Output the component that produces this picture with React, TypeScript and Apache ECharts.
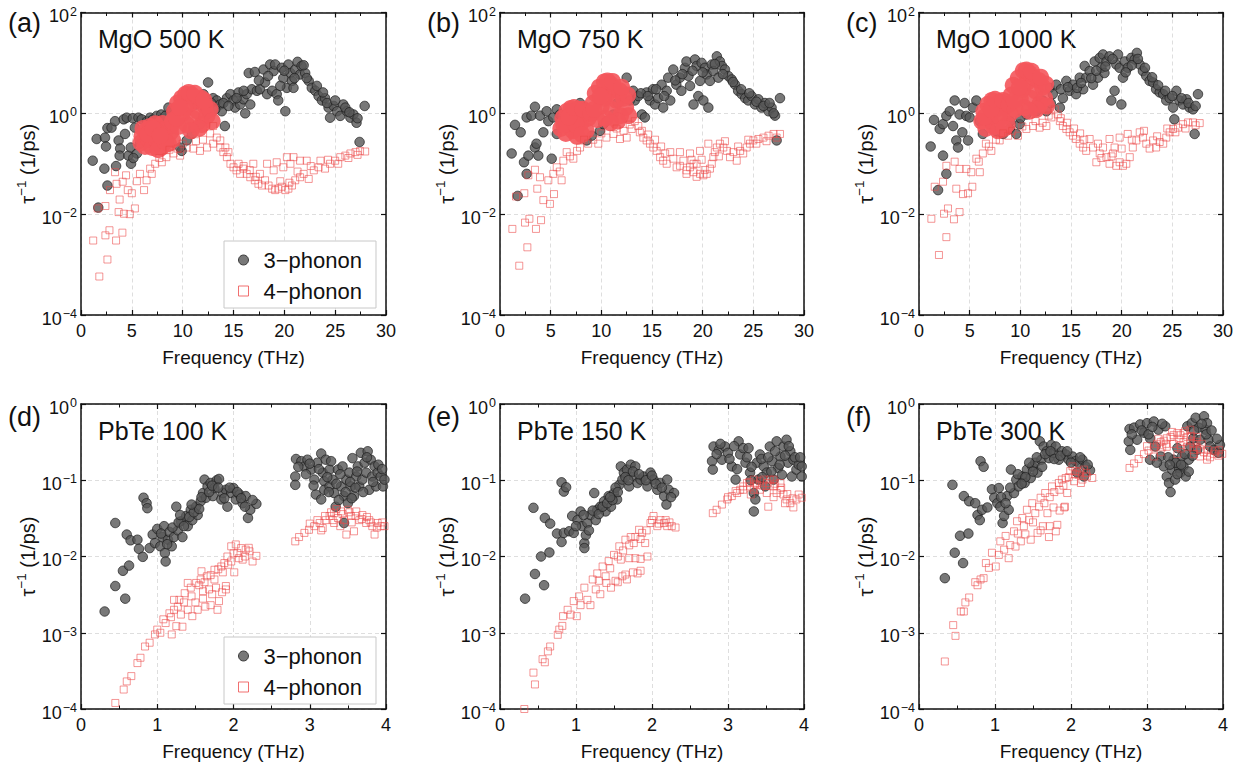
import React, { useEffect, useRef } from "react";
import * as echarts from "echarts";

// ---------- Panel texts and axis ranges ----------
const panelLetters = ["(a)", "(b)", "(c)", "(d)", "(e)", "(f)"];
const panelTitles = ["MgO 500 K", "MgO 750 K", "MgO 1000 K", "PbTe 100 K", "PbTe 150 K", "PbTe 300 K"];
const seriesNames = ["3\u2212phonon", "4\u2212phonon"];
const xAxisName = "Frequency (THz)";
const mgoFreq = { min: 0, max: 30, step: 5 };
const pbteFreq = { min: 0, max: 4, step: 1 };
const mgoRate = { min: 1e-4, max: 1e2, stepDecades: 2 };
const pbteRate = { min: 1e-4, max: 1e0, stepDecades: 1 };

// ---------- MgO 500 K ----------
const mgo500_3ph = [
  [1.15,0.115],[1.54,0.31],[1.7,0.0135],[2.36,0.33],[2.46,0.22],[2.6,0.51],[2.3,0.08],[2.6,0.037],[3.0,0.52],[3.35,0.7],
  [3.45,0.09],[3.7,0.29],[3.85,0.2],[3.8,0.145],[4.2,0.76],[4.33,0.39],[4.5,0.82],[4.66,0.145],[4.9,0.21],[4.92,0.1],
  [5.1,0.8],[5.3,0.52],[5.5,0.16],[5.65,0.82],[5.97,0.76],[6.1,0.39],[6.5,0.7],[6.8,0.82],[7.05,0.75],[7.45,0.89],
  [7.9,0.95],[7.8,0.73],[8.3,0.89],[8.6,1.3],[8.9,1.1],[9.9,0.18],[9.75,0.21],[10.4,0.29],[10.9,0.39],[11.05,0.52],
  [11.7,0.6],[12.05,2.4],[12.5,4.1],[12.4,0.95],[13.0,2.0],[13.35,1.8],[13.7,1.5],[13.85,1.1],[14.15,0.56],[14.35,2.0],
  [14.7,2.4],[15.0,1.8],[15.15,1.3],[15.5,2.6],[15.65,1.5],[15.98,1.9],[16.15,1.0],[16.3,2.4],[16.5,6.3],[16.65,1.5],
  [16.8,3.0],[17.1,6.6],[17.3,2.8],[17.6,3.0],[17.95,7.4],[18.1,4.1],[18.3,2.4],[18.6,9.3],[18.8,2.8],[18.95,6.9],
  [19.1,9.3],[19.25,2.4],[19.4,1.8],[19.75,8.0],[19.9,5.0],[20.1,1.1],[20.25,3.2],[20.4,9.3],[20.6,6.3],[20.75,4.4],
  [20.9,3.2],[21.07,7.4],[21.3,10.5],[21.55,5.9],[21.7,8.7],[22.05,6.3],[22.4,4.4],[22.7,3.2],[23.05,2.8],[23.37,2.2],
  [23.7,1.8],[24.0,2.0],[24.35,1.3],[24.5,0.82],[24.85,1.4],[25.2,1.1],[25.5,0.89],[25.8,1.5],[26.15,1.1],[26.5,0.82],
  [26.8,0.95],[27.1,0.65],[27.9,1.4],[27.4,0.27],[5.15,0.13],[5.8,0.25],[12.8,1.6],[13.2,1.2],[14.0,1.6],[14.5,1.4],
  [15.3,2.0],[16.0,2.8],[17.5,4.5],[18.4,5.5],[19.6,3.5],[20.0,7.0],[21.0,5.0],[21.9,9.0],[22.2,5.0],[23.2,3.5],
  [23.8,2.6],[24.2,1.6],[25.0,1.8],[26.0,1.3],[26.4,1.05],[27.2,0.8],[11.3,1.5],[11.8,1.8],[12.2,1.3]
];
const mgo500_4ph = [
  [1.2,0.003],[1.8,0.00058],[2.6,0.00126],[2.4,0.0038],[2.8,0.0048],[3.45,0.003],[4.07,0.0043],[1.64,0.013],[2.4,0.0145],[3.7,0.011],
  [4.23,0.0102],[4.8,0.01],[5.3,0.013],[3.8,0.0195],[2.85,0.03],[3.5,0.04],[4.1,0.044],[4.43,0.059],[5.0,0.026],[3.35,0.068],
  [5.8,0.063],[6.2,0.03],[6.45,0.047],[6.96,0.063],[7.3,0.1],[7.95,0.107],[8.4,0.135],[9.1,0.16],[9.75,0.145],[10.4,0.21],
  [11.05,0.2],[11.7,0.18],[12.4,0.21],[13.0,0.25],[13.35,0.33],[13.7,0.29],[13.0,0.56],[13.7,0.21],[14.0,0.17],[14.35,0.135],
  [14.7,0.1],[15.0,0.085],[15.3,0.074],[15.65,0.063],[15.98,0.08],[16.3,0.063],[16.65,0.054],[16.95,0.1],[17.1,0.047],[17.45,0.04],
  [17.8,0.037],[18.1,0.047],[18.45,0.037],[18.8,0.032],[19.1,0.03],[19.4,0.032],[19.75,0.035],[20.1,0.03],[20.4,0.032],[20.75,0.037],
  [21.07,0.047],[21.55,0.054],[21.9,0.063],[22.4,0.05],[22.9,0.074],[23.37,0.085],[24.0,0.08],[24.5,0.1],[25.0,0.115],[25.5,0.135],
  [26.0,0.145],[26.5,0.16],[27.0,0.17],[27.45,0.178],[27.95,0.175],[18.3,0.1],[19.25,0.107],[20.25,0.135],[20.9,0.135],[21.55,0.115],
  [22.2,0.115],[18.95,0.074],[19.9,0.085],[20.6,0.1],[23.55,0.115],[17.6,0.063],[14.2,0.21],[14.5,0.17],[15.5,0.1],[16.0,0.09],
  [16.6,0.075],[9.5,0.2],[10.0,0.25],[11.3,0.28],[12.0,0.3],[12.7,0.4],[6.8,0.08],[7.7,0.13],[8.7,0.19],[5.5,0.045],
  [4.6,0.03],[24.3,0.12],[25.3,0.1],[26.3,0.13],[27.2,0.15],[17.2,0.055],[19.6,0.045],[20.5,0.042],[21.3,0.07],[22.6,0.09]
];
const mgo500_4phDense = [
  [5.9,0.26],[6.0,0.35],[6.3,0.22],[6.4,0.45],[6.7,0.3],[6.8,0.55],[7.0,0.21],[7.2,0.4],[7.3,0.62],[7.5,0.28],
  [7.7,0.5],[7.9,0.21],[8.0,0.63],[8.2,0.35],[8.4,0.5],[8.6,0.25],[8.8,0.42],[9.0,0.3],[6.1,0.5],[7.6,0.19],[8.9,0.58],
  [6.6,0.38],[7.1,0.5],[8.3,0.27],[7.8,0.36],
  [9.0,0.7],[9.2,1.1],[9.5,1.6],[9.6,0.55],[9.9,2.0],[10.0,1.0],[10.3,2.4],[10.4,0.6],[10.6,1.5],[10.9,2.3],
  [11.0,0.8],[11.3,1.8],[11.5,1.1],[11.8,2.0],[11.9,0.6],[12.2,1.4],[12.4,0.9],[12.7,1.2],[12.9,0.7],[10.2,1.3],[11.6,0.5],[9.4,0.8],
  [10.6,2.6],[11.2,2.5],[9.7,1.3],[12.1,1.8],[10.8,0.45]
];

// ---------- MgO 750 K ----------
const mgo750_3ph = [
  [1.15,0.16],[1.48,0.59],[2.04,0.42],[2.37,0.107],[2.63,0.063],[1.74,0.023],[2.63,0.83],[2.8,0.145],[3.1,0.9],[3.45,1.35],
  [3.45,0.21],[3.6,0.25],[3.78,0.145],[3.95,0.9],[4.28,0.42],[4.6,1.1],[4.77,0.7],[5.1,0.126],[5.26,0.83],[5.6,1.2],
  [5.6,0.39],[5.92,0.95],[6.25,0.56],[6.58,1.0],[7.24,1.3],[7.9,1.6],[8.06,0.7],[8.55,0.29],[9.05,0.36],[9.87,0.45],
  [10.2,0.61],[10.5,0.7],[11.2,0.95],[12.5,5.1],[13.15,2.8],[13.3,1.8],[13.65,2.2],[14.0,0.95],[14.3,0.83],[14.47,2.6],
  [14.8,1.8],[15.1,3.0],[15.3,1.5],[15.6,2.0],[15.95,3.7],[16.1,1.3],[16.45,2.8],[16.6,5.1],[16.8,1.8],[17.1,7.4],
  [17.4,3.7],[17.76,5.1],[17.9,2.8],[18.25,8.0],[18.4,10.7],[18.6,5.5],[18.75,3.5],[19.1,1.5],[19.24,11.7],[19.4,8.7],
  [19.57,2.2],[19.74,4.4],[19.9,10.0],[20.07,1.8],[20.23,8.0],[20.4,5.9],[20.56,1.3],[20.72,4.4],[20.9,9.3],[21.05,6.9],
  [21.4,13.5],[21.55,5.1],[21.7,10.7],[21.9,8.7],[22.2,7.4],[22.53,5.5],[22.86,4.7],[23.2,3.7],[23.5,2.8],[23.85,2.4],
  [24.2,2.0],[24.5,1.8],[24.83,2.2],[25.16,1.5],[25.5,1.9],[25.8,1.3],[26.15,1.6],[26.5,1.1],[26.8,1.3],[27.14,0.9],
  [27.63,2.0],[27.3,0.29],[12.0,2.2],[12.8,1.8],[13.9,2.5],[14.6,2.2],[15.4,3.0],[16.2,2.2],[17.3,4.5],[18.0,6.0],
  [19.0,7.0],[20.0,6.5],[21.2,9.5],[22.0,6.0],[23.0,4.2],[23.8,3.0],[24.6,2.5],[25.3,1.7],[26.0,1.4],[26.6,1.6],
  [27.0,1.0],[11.6,1.6],[8.4,1.3],[9.3,0.9]
];
const mgo750_4ph = [
  [1.22,0.0051],[1.9,0.00095],[2.7,0.0022],[2.47,0.0068],[2.9,0.0081],[3.55,0.0051],[4.05,0.0076],[1.58,0.0224],[2.4,0.026],[3.68,0.032],
  [4.28,0.019],[4.93,0.016],[5.33,0.025],[3.45,0.076],[2.8,0.059],[3.95,0.054],[4.77,0.047],[5.26,0.063],[6.08,0.047],[5.6,0.085],
  [6.25,0.115],[7.24,0.126],[6.58,0.17],[7.9,0.21],[8.7,0.25],[9.7,0.25],[10.5,0.33],[11.2,0.39],[11.84,0.31],[12.5,0.33],
  [13.0,0.49],[13.3,0.7],[13.65,0.56],[13.8,0.42],[14.14,0.33],[14.47,0.29],[14.8,0.25],[15.13,0.21],[15.46,0.18],[15.8,0.135],
  [16.1,0.115],[16.45,0.1],[16.8,0.17],[17.1,0.126],[17.43,0.085],[17.76,0.091],[18.1,0.115],[18.4,0.074],[18.75,0.085],[19.1,0.068],
  [19.4,0.1],[19.74,0.063],[20.07,0.059],[20.4,0.063],[20.72,0.08],[21.05,0.135],[21.4,0.21],[21.7,0.25],[22.04,0.21],[22.4,0.18],
  [22.7,0.135],[23.03,0.17],[23.36,0.115],[23.7,0.18],[24.0,0.16],[24.34,0.21],[24.67,0.25],[25.0,0.29],[25.5,0.31],[26.0,0.33],
  [26.5,0.36],[27.0,0.39],[27.63,0.39],[17.76,0.17],[18.75,0.16],[19.74,0.18],[20.56,0.25],[19.1,0.1],[21.2,0.17],[18.4,0.063],
  [19.4,0.055],[14.0,0.45],[14.6,0.38],[15.3,0.3],[15.9,0.22],[16.3,0.16],[9.2,0.3],[10.0,0.4],[11.5,0.5],[12.2,0.45],
  [12.8,0.6],[6.9,0.14],[7.6,0.18],[8.3,0.3],[5.9,0.07],[24.5,0.3],[25.3,0.25],[26.3,0.28],[27.3,0.33],[23.5,0.22],[22.2,0.28],
  [20.2,0.075],[20.9,0.1],[21.6,0.14],[19.9,0.12],[18.9,0.12]
];
const mgo750_4phDense = [
  [6.0,0.5],[6.2,0.8],[6.5,0.4],[6.6,1.1],[6.9,0.6],[7.0,1.25],[7.2,0.45],[7.4,0.9],[7.6,0.35],[7.8,1.2],
  [8.0,0.65],[8.3,1.0],[8.5,0.45],[8.7,0.8],[6.3,0.6],[7.5,0.6],[8.1,0.38],[6.8,0.85],[7.3,1.3],[8.2,1.2],
  [9.0,1.0],[9.2,1.6],[9.4,2.5],[9.6,0.75],[9.8,3.3],[10.0,1.4],[10.3,4.2],[10.4,0.8],[10.6,2.4],[10.9,3.8],
  [11.0,1.2],[11.3,3.0],[11.5,1.8],[11.8,2.8],[11.9,0.9],[12.2,2.0],[12.4,1.3],[12.6,2.3],[12.7,0.9],[10.2,2.0],[9.3,1.2],[11.6,0.7],
  [10.6,4.4],[11.1,4.3],[9.9,2.2],[12.0,3.3],[10.9,0.65]
];

// ---------- MgO 1000 K ----------
const mgo1000_3ph = [
  [1.15,0.22],[1.48,0.74],[2.04,0.49],[2.37,0.145],[2.7,0.063],[1.88,0.03],[2.37,0.61],[2.7,0.89],[3.03,1.1],[3.36,0.56],
  [3.52,1.8],[3.68,0.29],[3.85,0.21],[4.0,0.95],[4.28,0.42],[4.5,1.6],[4.67,0.89],[4.84,0.29],[5.0,0.83],[5.33,1.3],
  [5.66,1.8],[6.0,0.7],[6.3,0.39],[7.6,0.45],[8.3,0.39],[8.95,0.49],[9.6,0.39],[9.93,0.61],[10.6,0.95],[11.25,1.3],
  [11.9,1.6],[12.57,1.1],[12.9,3.2],[13.2,2.4],[13.55,3.7],[13.9,1.3],[14.2,2.0],[14.54,4.4],[14.87,2.8],[15.2,3.7],
  [15.5,2.4],[15.86,5.1],[16.2,3.0],[16.35,8.7],[16.5,5.1],[16.84,6.9],[17.17,3.7],[17.34,10.7],[17.66,5.1],[17.83,12.6],
  [18.0,8.0],[18.16,14.7],[18.3,6.3],[18.5,10.7],[18.8,13.5],[18.98,1.8],[19.3,2.8],[19.47,9.3],[19.64,14.7],[19.8,8.0],
  [19.97,1.5],[20.13,5.1],[20.3,10.7],[20.6,8.0],[20.95,12.6],[21.28,11.7],[21.5,15.8],[21.78,9.3],[22.1,6.9],[22.43,5.5],
  [22.76,4.4],[23.1,4.1],[23.4,3.0],[23.75,2.6],[24.1,2.4],[24.4,1.8],[24.74,2.0],[25.07,1.3],[25.4,2.8],[25.7,1.8],
  [26.05,1.5],[26.4,1.9],[26.7,1.3],[27.04,1.2],[27.53,2.4],[27.2,0.39],[25.2,0.76],[12.2,1.8],[13.0,1.6],[14.0,3.0],
  [14.7,3.3],[15.6,3.2],[16.0,4.0],[17.0,5.0],[17.5,7.0],[18.4,8.5],[19.1,12.0],[20.4,6.5],[21.0,9.0],[21.6,12.0],
  [22.3,8.0],[23.0,5.2],[23.6,3.6],[24.3,2.8],[25.0,2.2],[25.9,2.0],[26.6,1.6],[27.3,1.4],[11.6,1.1],[10.0,0.8],[9.0,0.7],[7.0,0.6]
];
const mgo1000_4ph = [
  [1.22,0.0081],[1.97,0.00155],[2.7,0.0035],[2.47,0.0102],[2.86,0.013],[3.45,0.0079],[4.0,0.011],[1.55,0.035],[2.37,0.044],[3.68,0.032],
  [4.34,0.025],[4.84,0.026],[5.26,0.035],[3.52,0.11],[2.7,0.091],[4.0,0.079],[4.67,0.079],[5.16,0.068],[6.0,0.068],[5.66,0.126],
  [6.3,0.16],[7.14,0.18],[6.6,0.25],[7.96,0.29],[8.8,0.36],[9.77,0.36],[10.6,0.49],[11.25,0.56],[11.9,0.52],[12.57,0.56],
  [13.06,0.83],[13.4,1.2],[13.7,0.95],[13.9,0.7],[14.2,0.56],[14.54,0.49],[14.87,0.42],[15.2,0.36],[15.5,0.31],[15.86,0.25],
  [16.2,0.21],[16.5,0.18],[16.84,0.31],[17.17,0.21],[17.5,0.107],[17.83,0.16],[18.16,0.21],[18.5,0.135],[18.8,0.1],[19.14,0.16],
  [19.47,0.091],[19.8,0.107],[20.13,0.091],[20.46,0.1],[20.8,0.135],[21.1,0.21],[21.45,0.29],[21.78,0.42],[22.1,0.33],[22.43,0.25],
  [22.76,0.2],[23.1,0.29],[23.4,0.21],[23.75,0.27],[24.1,0.25],[24.4,0.33],[24.74,0.42],[25.07,0.49],[25.56,0.52],[26.05,0.61],
  [26.55,0.66],[27.04,0.66],[27.7,0.64],[17.66,0.25],[18.8,0.31],[19.8,0.33],[20.6,0.39],[19.3,0.21],[14.0,0.8],[14.6,0.65],
  [15.3,0.5],[15.9,0.4],[16.3,0.3],[9.2,0.45],[10.2,0.55],[11.5,0.7],[12.2,0.65],[12.8,0.9],[6.9,0.22],[7.6,0.3],
  [8.3,0.4],[5.9,0.11],[24.5,0.5],[25.3,0.42],[26.3,0.5],[27.3,0.58],[23.5,0.35],[22.2,0.45],[20.0,0.2],[21.0,0.3],[19.0,0.14],[18.0,0.13]
];
const mgo1000_4phDense = [
  [6.2,0.7],[6.4,1.1],[6.6,0.5],[6.8,1.5],[7.0,0.8],[7.2,1.8],[7.4,0.55],[7.6,1.2],[7.8,0.45],[8.0,1.7],
  [8.2,0.85],[8.5,1.35],[8.7,0.6],[9.0,1.0],[6.5,0.85],[7.9,0.9],[8.4,0.5],[7.1,1.2],[7.5,1.9],[8.3,1.8],
  [8.9,1.5],[9.1,2.3],[9.3,3.6],[9.5,1.2],[9.8,5.0],[10.0,2.0],[10.3,7.0],[10.4,1.3],[10.6,4.0],[10.9,6.2],
  [11.0,2.0],[11.3,5.0],[11.5,2.8],[11.8,4.5],[11.9,1.5],[12.2,3.3],[12.4,2.0],[12.5,3.8],[12.6,1.4],[10.2,3.0],[9.4,1.8],[11.6,1.2],
  [10.6,7.2],[11.1,6.8],[9.9,3.3],[12.0,5.2],[10.9,1.1]
];

// ---------- PbTe 100 K ----------
const pbte100_3ph = [
  [0.31,0.0019],[0.45,0.0041],[0.45,0.0275],[0.55,0.0065],[0.58,0.0028],[0.63,0.0076],[0.6,0.0194],[0.65,0.0163],[0.74,0.0166],[0.76,0.0126],
  [0.81,0.0099],[0.82,0.059],[0.86,0.05],[0.87,0.043],[0.9,0.0129],[0.94,0.0194],[0.97,0.015],[1.0,0.023],[1.04,0.0136],[1.07,0.018],
  [1.09,0.025],[1.1,0.0111],[1.11,0.0086],[1.14,0.0166],[1.16,0.021],[1.19,0.0136],[1.22,0.018],[1.25,0.045],[1.27,0.022],[1.31,0.029],
  [1.33,0.018],[1.38,0.034],[1.4,0.025],[1.44,0.041],[1.46,0.03],[1.51,0.045],[1.53,0.035],[1.57,0.053],[1.6,0.068],[1.62,0.102],
  [1.64,0.059],[1.66,0.083],[1.7,0.092],[1.73,0.062],[1.75,0.079],[1.78,0.1],[1.81,0.104],[1.84,0.056],[1.86,0.068],[1.9,0.075],
  [1.92,0.045],[1.97,0.068],[2.0,0.079],[2.03,0.056],[2.08,0.065],[2.12,0.05],[2.16,0.062],[2.19,0.032],[2.22,0.041],[2.3,0.049],
  [1.05,0.02],[1.13,0.0145],[1.2,0.024],[1.28,0.028],[1.35,0.025],[1.42,0.033],[1.48,0.038],[1.55,0.042],[1.58,0.06],[1.68,0.07],
  [1.72,0.085],[1.8,0.08],[1.88,0.058],[1.95,0.08],[2.05,0.07],[2.1,0.058],[2.15,0.045],[2.25,0.055],[1.3,0.035],[1.45,0.048],
  [2.81,0.112],[2.81,0.087],[2.82,0.19],[2.89,0.178],[2.93,0.152],[2.97,0.186],[3.02,0.138],[3.06,0.102],[3.1,0.17],[3.15,0.224],
  [3.17,0.126],[3.19,0.097],[3.21,0.186],[3.26,0.138],[3.28,0.178],[3.19,0.075],[3.08,0.065],[3.15,0.056],[3.26,0.083],[3.3,0.102],
  [3.32,0.068],[3.34,0.045],[3.37,0.138],[3.41,0.083],[3.43,0.152],[3.45,0.062],[3.48,0.102],[3.5,0.05],[3.52,0.126],[3.54,0.083],
  [3.56,0.195],[3.58,0.062],[3.61,0.112],[3.63,0.152],[3.65,0.083],[3.67,0.229],[3.69,0.102],[3.72,0.17],[3.74,0.126],[3.76,0.24],
  [3.78,0.075],[3.8,0.186],[3.82,0.112],[3.85,0.152],[3.87,0.083],[3.89,0.126],[3.93,0.112],[3.96,0.083],[3.98,0.102],[3.45,0.0275],
  [2.85,0.15],[2.95,0.12],[3.0,0.165],[3.12,0.14],[3.23,0.11],[3.35,0.09],[3.4,0.12],[3.47,0.07],[3.53,0.095],[3.6,0.08],
  [3.62,0.13],[3.7,0.07],[3.75,0.2],[3.83,0.095],[3.9,0.16],[3.95,0.14],[3.05,0.085],[3.25,0.07],[3.38,0.055],[3.55,0.058]
];
const pbte100_4ph = [
  [0.45,0.00012],[0.56,0.00018],[0.6,0.00023],[0.66,0.00027],[0.74,0.0004],[0.78,0.00047],[0.84,0.00066],[0.9,0.00074],[0.97,0.00095],[1.0,0.0011],
  [1.04,0.001],[1.08,0.0015],[1.11,0.00134],[1.16,0.0018],[1.19,0.00095],[1.22,0.002],[1.25,0.00122],[1.29,0.0027],[1.31,0.00173],[1.33,0.0012],
  [1.36,0.0033],[1.4,0.002],[1.44,0.0039],[1.46,0.00165],[1.51,0.0045],[1.53,0.002],[1.57,0.005],[1.6,0.0035],[1.63,0.0022],[1.65,0.0055],
  [1.68,0.0037],[1.7,0.0023],[1.75,0.0067],[1.77,0.0039],[1.79,0.002],[1.81,0.0026],[1.84,0.0074],[1.88,0.0082],[1.9,0.0041],[1.92,0.01],
  [1.97,0.0086],[2.01,0.0062],[2.03,0.0144],[2.05,0.0111],[2.1,0.0129],[2.12,0.0091],[2.16,0.0123],[2.21,0.0117],[2.25,0.0086],[2.3,0.0102],
  [1.4,0.0045],[1.22,0.0027],[1.58,0.0064],[1.75,0.005],[1.97,0.0136],
  [1.45,0.003],[1.55,0.0042],[1.62,0.0046],[1.7,0.0057],[1.8,0.0068],[1.86,0.0062],[1.93,0.0078],[2.0,0.011],[2.07,0.0095],[2.15,0.01],
  [2.2,0.013],[1.35,0.0025],[1.27,0.0022],[1.18,0.0016],[1.5,0.0025],[1.6,0.0028],[1.72,0.0032],[1.85,0.0034],[1.9,0.0037],
  [2.81,0.0158],[2.86,0.018],[2.93,0.0204],[2.99,0.0224],[3.06,0.025],[3.13,0.0275],[3.17,0.0236],[3.21,0.03],[3.26,0.034],[3.3,0.03],
  [3.32,0.037],[3.37,0.032],[3.41,0.039],[3.45,0.03],[3.48,0.0194],[3.5,0.041],[3.54,0.034],[3.58,0.0214],[3.61,0.039],[3.65,0.03],
  [3.69,0.035],[3.74,0.0275],[3.78,0.03],[3.82,0.025],[3.85,0.0194],[3.89,0.0275],[3.93,0.025],[3.98,0.025],[3.32,0.0275],[3.55,0.028],
  [3.0,0.027],[3.1,0.03],[3.2,0.034],[3.28,0.038],[3.35,0.042],[3.43,0.036],[3.52,0.038],[3.6,0.034],[3.68,0.031],[3.75,0.033],
  [3.8,0.028],[3.88,0.024],[3.95,0.028],[3.15,0.022],[3.4,0.025]
];

// ---------- PbTe 150 K ----------
const pbte150_3ph = [
  [0.33,0.0028],[0.44,0.0435],[0.46,0.0059],[0.54,0.01],[0.58,0.0042],[0.59,0.032],[0.65,0.0113],[0.66,0.027],[0.75,0.02],[0.81,0.094],
  [0.84,0.071],[0.87,0.081],[0.81,0.0155],[0.84,0.0204],[0.91,0.0214],[0.95,0.034],[0.97,0.0204],[1.02,0.03],[1.06,0.039],[1.08,0.025],
  [1.11,0.015],[1.11,0.0129],[1.13,0.019],[1.15,0.0275],[1.19,0.035],[1.24,0.068],[1.26,0.03],[1.28,0.041],[1.32,0.045],[1.37,0.053],
  [1.39,0.039],[1.43,0.062],[1.46,0.045],[1.5,0.068],[1.54,0.056],[1.57,0.087],[1.59,0.152],[1.61,0.102],[1.63,0.126],[1.67,0.138],
  [1.7,0.083],[1.72,0.16],[1.76,0.112],[1.78,0.152],[1.81,0.092],[1.85,0.102],[1.89,0.112],[1.94,0.083],[1.98,0.126],[2.02,0.102],
  [2.07,0.075],[2.11,0.092],[2.16,0.062],[2.19,0.048],[2.22,0.075],[2.29,0.068],[2.2,0.102],
  [1.0,0.025],[1.17,0.022],[1.22,0.04],[1.3,0.036],[1.35,0.045],[1.41,0.05],[1.48,0.055],[1.52,0.08],[1.55,0.07],[1.65,0.11],
  [1.69,0.1],[1.75,0.13],[1.83,0.12],[1.92,0.1],[2.0,0.115],[2.05,0.09],[2.13,0.08],[2.25,0.06],[1.1,0.035],[1.45,0.06],
  [2.79,0.178],[2.8,0.138],[2.81,0.277],[2.88,0.25],[2.92,0.186],[2.96,0.277],[3.0,0.229],[3.05,0.152],[3.1,0.102],[3.14,0.324],
  [3.16,0.218],[3.2,0.264],[3.23,0.17],[3.27,0.264],[3.29,0.126],[3.34,0.068],[3.34,0.039],[3.36,0.056],[3.38,0.17],[3.4,0.102],
  [3.42,0.218],[3.47,0.152],[3.49,0.083],[3.51,0.126],[3.55,0.277],[3.58,0.178],[3.6,0.102],[3.64,0.324],[3.66,0.145],[3.69,0.205],
  [3.71,0.118],[3.73,0.277],[3.77,0.34],[3.79,0.17],[3.82,0.24],[3.84,0.112],[3.86,0.186],[3.9,0.138],[3.93,0.16],[3.97,0.112],[3.97,0.152],
  [2.85,0.22],[2.9,0.3],[3.02,0.19],[3.08,0.28],[3.12,0.14],[3.25,0.2],[3.31,0.15],[3.44,0.19],[3.53,0.2],[3.62,0.24],
  [3.68,0.16],[3.75,0.21],[3.8,0.28],[3.88,0.2],[3.95,0.2],[3.45,0.11],[3.57,0.13],[3.3,0.1]
];
const pbte150_4ph = [
  [0.32,0.0001],[0.44,0.0003],[0.46,0.00021],[0.56,0.00045],[0.59,0.00041],[0.63,0.00057],[0.66,0.00066],[0.76,0.00094],[0.78,0.0011],[0.82,0.00123],
  [0.83,0.00165],[0.89,0.002],[0.93,0.00173],[0.97,0.0026],[1.01,0.00165],[1.04,0.003],[1.06,0.0023],[1.11,0.0039],[1.15,0.0027],[1.19,0.0023],
  [1.22,0.005],[1.26,0.0037],[1.28,0.006],[1.32,0.0032],[1.35,0.0074],[1.39,0.0055],[1.43,0.0087],[1.46,0.0039],[1.5,0.0105],[1.52,0.0048],
  [1.57,0.0136],[1.59,0.0091],[1.61,0.0055],[1.65,0.0166],[1.67,0.005],[1.72,0.018],[1.76,0.015],[1.78,0.0095],[1.81,0.006],[1.83,0.0224],
  [1.87,0.0204],[1.91,0.015],[1.94,0.01],[1.98,0.0275],[2.02,0.034],[2.07,0.025],[2.11,0.03],[2.16,0.0275],[2.2,0.025],[2.26,0.025],[2.31,0.024],
  [1.45,0.007],[1.55,0.01],[1.62,0.012],[1.7,0.014],[1.78,0.018],[1.85,0.017],[1.93,0.022],[2.0,0.03],[2.09,0.027],[2.18,0.03],
  [2.23,0.028],[1.3,0.0048],[1.4,0.0045],[1.55,0.0046],[1.65,0.0058],[1.75,0.0062],[1.85,0.0065],[1.7,0.0095],[1.85,0.0093],
  [2.8,0.037],[2.85,0.041],[2.92,0.048],[2.99,0.056],[3.05,0.062],[3.12,0.068],[3.16,0.075],[3.2,0.083],[3.25,0.092],[3.29,0.083],
  [3.34,0.075],[3.38,0.087],[3.42,0.097],[3.47,0.102],[3.51,0.092],[3.53,0.045],[3.55,0.102],[3.6,0.083],[3.64,0.068],[3.69,0.075],
  [3.73,0.065],[3.77,0.056],[3.82,0.05],[3.86,0.044],[3.9,0.056],[3.97,0.059],[3.42,0.075],[3.51,0.068],[3.34,0.102],[3.6,0.102],[3.69,0.092],
  [3.0,0.06],[3.1,0.072],[3.2,0.075],[3.28,0.095],[3.36,0.09],[3.45,0.085],[3.55,0.085],[3.62,0.09],[3.7,0.08],[3.78,0.066],
  [3.85,0.058],[3.93,0.065],[3.3,0.065],[3.6,0.06],[3.75,0.05]
];

// ---------- PbTe 300 K ----------
const pbte300_3ph = [
  [0.34,0.0052],[0.44,0.087],[0.47,0.0112],[0.54,0.0187],[0.58,0.0082],[0.59,0.062],[0.65,0.02],[0.66,0.053],[0.74,0.05],[0.77,0.035],
  [0.8,0.03],[0.81,0.178],[0.85,0.15],[0.83,0.041],[0.9,0.044],[0.96,0.076],[0.99,0.059],[1.03,0.05],[1.05,0.079],[1.07,0.045],
  [1.1,0.0275],[1.12,0.034],[1.16,0.062],[1.18,0.041],[1.21,0.138],[1.25,0.068],[1.28,0.102],[1.31,0.083],[1.36,0.112],[1.39,0.092],
  [1.42,0.138],[1.47,0.107],[1.49,0.152],[1.53,0.17],[1.56,0.126],[1.59,0.324],[1.61,0.186],[1.64,0.277],[1.68,0.24],[1.71,0.195],
  [1.74,0.29],[1.77,0.229],[1.8,0.277],[1.84,0.186],[1.88,0.24],[1.93,0.218],[1.97,0.186],[2.02,0.205],[2.06,0.178],[2.1,0.17],
  [2.15,0.186],[2.19,0.152],[2.25,0.135],[2.17,0.112],[2.08,0.126],
  [1.2,0.08],[1.3,0.12],[1.4,0.11],[1.5,0.13],[1.55,0.2],[1.62,0.15],[1.66,0.22],[1.73,0.24],[1.78,0.19],[1.86,0.21],
  [1.95,0.24],[2.0,0.17],[2.12,0.2],[2.22,0.16],[1.08,0.06],[1.14,0.05],[1.45,0.17],[1.35,0.09],
  [2.76,0.324],[2.78,0.25],[2.77,0.47],[2.83,0.49],[2.87,0.34],[2.91,0.54],[2.96,0.42],[3.0,0.56],[3.04,0.355],[3.09,0.59],
  [3.11,0.277],[3.15,0.46],[3.18,0.205],[3.22,0.152],[3.24,0.51],[3.26,0.112],[3.29,0.092],[3.31,0.07],[3.33,0.138],[3.35,0.186],
  [3.37,0.102],[3.4,0.264],[3.42,0.145],[3.44,0.126],[3.46,0.205],[3.48,0.152],[3.51,0.112],[3.53,0.51],[3.55,0.186],[3.57,0.277],
  [3.59,0.56],[3.61,0.355],[3.64,0.66],[3.66,0.25],[3.68,0.49],[3.7,0.34],[3.75,0.69],[3.77,0.46],[3.79,0.56],[3.81,0.34],
  [3.83,0.277],[3.88,0.25],[3.94,0.229],[3.96,0.29],[3.04,0.186],[3.13,0.17],
  [2.8,0.4],[2.93,0.45],[3.02,0.4],[3.07,0.5],[3.2,0.55],[3.28,0.2],[3.38,0.17],[3.45,0.16],[3.5,0.22],[3.6,0.21],
  [3.62,0.45],[3.72,0.55],[3.78,0.4],[3.85,0.45],[3.92,0.35],[3.4,0.12],[3.3,0.16],[3.55,0.13]
];
const pbte300_4ph = [
  [0.34,0.00042],[0.45,0.00126],[0.48,0.00091],[0.55,0.0019],[0.59,0.0019],[0.61,0.0025],[0.66,0.0029],[0.74,0.0046],[0.77,0.0042],[0.81,0.005],
  [0.85,0.0052],[0.88,0.0082],[0.92,0.0071],[0.96,0.0112],[1.01,0.0074],[1.05,0.0105],[1.07,0.0158],[1.12,0.0123],[1.14,0.0186],[1.18,0.0095],
  [1.2,0.0141],[1.25,0.0214],[1.27,0.0135],[1.29,0.029],[1.34,0.0158],[1.36,0.032],[1.4,0.0195],[1.42,0.041],[1.47,0.0166],[1.49,0.05],
  [1.53,0.037],[1.56,0.0204],[1.6,0.059],[1.63,0.025],[1.66,0.068],[1.69,0.037],[1.71,0.018],[1.75,0.083],[1.77,0.044],[1.8,0.0214],
  [1.82,0.026],[1.84,0.092],[1.88,0.102],[1.91,0.044],[1.93,0.107],[1.95,0.068],[1.99,0.132],[2.02,0.152],[2.06,0.132],[2.1,0.118],
  [2.15,0.102],[2.17,0.138],[2.21,0.112],[2.28,0.107],[2.04,0.097],[2.13,0.092],
  [1.3,0.02],[1.38,0.025],[1.45,0.03],[1.5,0.028],[1.58,0.045],[1.65,0.05],[1.72,0.06],[1.78,0.07],[1.85,0.075],[1.9,0.085],
  [1.97,0.11],[2.05,0.12],[2.12,0.13],[2.2,0.125],[1.6,0.022],[1.72,0.025],[1.85,0.04],[1.92,0.045],
  [2.77,0.145],[2.83,0.166],[2.89,0.19],[2.96,0.22],[3.02,0.245],[3.09,0.27],[3.13,0.3],[3.18,0.316],[3.22,0.33],[3.26,0.355],
  [3.31,0.37],[3.35,0.39],[3.4,0.415],[3.44,0.39],[3.48,0.415],[3.53,0.37],[3.57,0.33],[3.61,0.3],[3.66,0.27],[3.7,0.255],
  [3.75,0.233],[3.79,0.21],[3.83,0.2],[3.88,0.222],[3.94,0.21],[3.99,0.222],[3.26,0.275],[3.35,0.3],[3.44,0.29],[3.53,0.275],
  [3.61,0.25],[3.7,0.205],[3.79,0.186],[3.18,0.233],[3.09,0.205],[3.4,0.22],[3.48,0.316],[3.57,0.46],[3.66,0.37],
  [3.0,0.28],[3.15,0.35],[3.25,0.3],[3.33,0.43],[3.42,0.35],[3.5,0.44],[3.58,0.38],[3.65,0.32],[3.72,0.3],[3.8,0.25],
  [3.9,0.24],[3.95,0.25],[3.2,0.27],[3.45,0.26],[3.62,0.22]
];

const threePhonon = [mgo500_3ph, mgo750_3ph, mgo1000_3ph, pbte100_3ph, pbte150_3ph, pbte300_3ph];
const fourPhonon = [mgo500_4ph, mgo750_4ph, mgo1000_4ph, pbte100_4ph, pbte150_4ph, pbte300_4ph];
const fourPhononDense = [mgo500_4phDense, mgo750_4phDense, mgo1000_4phDense, [], [], []];
const legendPanels = [0, 3];

const FONT = '"Liberation Sans", Arial, Helvetica, sans-serif';
const INK = "#111";

function powLabel(v: number) {
  const e = Math.round(Math.log10(v));
  const s = e < 0 ? "\u2212" + Math.abs(e) : String(e);
  return `{b|10}{e|${s}}`;
}

export default function App() {
  const ref = useRef<HTMLDivElement>(null);
  useEffect(() => {
    const chart = echarts.init(ref.current!, null, { renderer: "svg" });
    const lefts = [81, 500, 919];
    const widths = [305, 304, 304];
    const tops = [11, 404];
    const heights = [304, 305];
    const grids: any[] = [];
    const xAxes: any[] = [];
    const yAxes: any[] = [];
    const series: any[] = [];
    const graphics: any[] = [];
    const legends: any[] = [];

    const axisLine = { show: true, onZero: false, lineStyle: { color: INK, width: 1.5 } };
    const axisTick = { show: true, inside: true, length: 5, lineStyle: { color: INK, width: 1.2 } };
    const minorTick = { show: true, splitNumber: 2, length: 3.5, lineStyle: { color: INK, width: 1 } };
    const splitLine = { show: true, lineStyle: { type: [4, 3], color: "#d6d6d6", width: 0.8 } };

    for (let i = 0; i < 6; i++) {
      const row = Math.floor(i / 3);
      const col = i % 3;
      const L = lefts[col], T = tops[row];
      grids.push({ left: L, top: T, width: widths[col], height: heights[row] });
      const fx = row === 0 ? mgoFreq : pbteFreq;
      const ry = row === 0 ? mgoRate : pbteRate;
      xAxes.push({
        type: "value", gridIndex: i, position: "bottom", min: fx.min, max: fx.max, interval: fx.step,
        axisLine, axisTick, minorTick, splitLine,
        axisLabel: { fontSize: 18, color: INK, margin: 7, fontFamily: FONT },
        name: xAxisName, nameLocation: "middle", nameGap: 33,
        nameTextStyle: { fontSize: 19, color: INK, fontFamily: FONT },
      });
      xAxes.push({
        type: "value", gridIndex: i, position: "top", min: fx.min, max: fx.max, interval: fx.step,
        axisLine, axisTick, minorTick, splitLine: { show: false }, axisLabel: { show: false },
      });
      yAxes.push({
        type: "log", logBase: 10, gridIndex: i, position: "left", min: ry.min, max: ry.max, interval: ry.stepDecades,
        axisLine, axisTick, splitLine, minorTick: { show: false },
        axisLabel: {
          margin: 4, formatter: powLabel, color: INK, fontFamily: FONT,
          rich: {
            b: { fontSize: 18, lineHeight: 19, padding: [7, 0, 0, 0], color: INK, fontFamily: FONT },
            e: { fontSize: 12.5, lineHeight: 14, padding: [2, 0, 0, 1], verticalAlign: "top", color: INK, fontFamily: FONT },
          },
        },
        name: "{t|\u03c4}{s|\u22121}{t| (1/ps)}", nameLocation: "middle", nameRotate: 90, nameGap: 44,
        nameTextStyle: {
          color: INK, fontFamily: FONT, fontSize: 19,
          rich: {
            t: { fontSize: 20, lineHeight: 22, padding: [5, 0, 0, 0], color: INK, fontFamily: FONT },
            s: { fontSize: 13.5, lineHeight: 15, verticalAlign: "top", color: INK, fontFamily: FONT },
          },
        },
      });
      yAxes.push({
        type: "log", logBase: 10, gridIndex: i, position: "right", min: ry.min, max: ry.max, interval: ry.stepDecades,
        axisLine, axisTick, splitLine: { show: false }, axisLabel: { show: false }, minorTick: { show: false },
      });

      series.push({
        type: "scatter", name: seriesNames[0], xAxisIndex: 2 * i, yAxisIndex: 2 * i,
        data: threePhonon[i], symbol: "circle", symbolSize: 9.5, z: 2,
        itemStyle: { color: "#565656", borderColor: "#1c1c1c", borderWidth: 0.9 },
      });
      if (fourPhononDense[i].length) {
        series.push({
          type: "scatter", name: seriesNames[1], xAxisIndex: 2 * i, yAxisIndex: 2 * i,
          data: fourPhononDense[i], symbol: "circle", symbolSize: 17, z: 3,
          itemStyle: { color: "#f4555b", opacity: 0.9 },
        });
      }
      series.push({
        type: "scatter", name: seriesNames[1], xAxisIndex: 2 * i, yAxisIndex: 2 * i,
        data: fourPhonon[i], symbol: "rect", symbolSize: 7, z: 4,
        itemStyle: { color: "rgba(255,255,255,0)", borderColor: "rgba(236,72,72,0.72)", borderWidth: 1 },
      });

      graphics.push({
        type: "text", x: L - 73, y: T + (row === 0 ? 12 : 13),
        style: { text: panelLetters[i], fontSize: 27, fontFamily: FONT, fill: INK, verticalAlign: "middle" },
      });
      graphics.push({
        type: "text", x: L + 17, y: T + (row === 0 ? 28 : 27),
        style: { text: panelTitles[i], fontSize: 25, fontFamily: FONT, fill: INK, verticalAlign: "middle" },
      });
    }

    legendPanels.forEach((p) => {
      const row = Math.floor(p / 3);
      legends.push({
        left: lefts[p % 3] + 143, top: row === 0 ? 241 : 637, orient: "vertical",
        itemWidth: 10, itemHeight: 10, itemGap: 7, selectedMode: false,
        padding: [7, 14, 5, 14], borderColor: "#c8c8c8", borderWidth: 1, backgroundColor: "#fff",
        textStyle: { fontSize: 22, fontFamily: FONT, color: INK, lineHeight: 24, padding: [0, 0, 0, 10] },
        data: [
          { name: seriesNames[0], icon: "circle", itemStyle: { color: "#565656", borderColor: "#1c1c1c", borderWidth: 1 } },
          { name: seriesNames[1], icon: "rect", itemStyle: { color: "#fff", borderColor: "#f06060", borderWidth: 1 } },
        ],
      });
    });

    chart.setOption({
      animation: false,
      backgroundColor: "#fff",
      textStyle: { fontFamily: FONT },
      grid: grids,
      xAxis: xAxes,
      yAxis: yAxes,
      series,
      legend: legends,
      graphic: graphics,
    });
    return () => chart.dispose();
  }, []);
  return <div ref={ref} style={{ position: "fixed", left: 0, top: 0, width: 1245, height: 768 }} />;
}
